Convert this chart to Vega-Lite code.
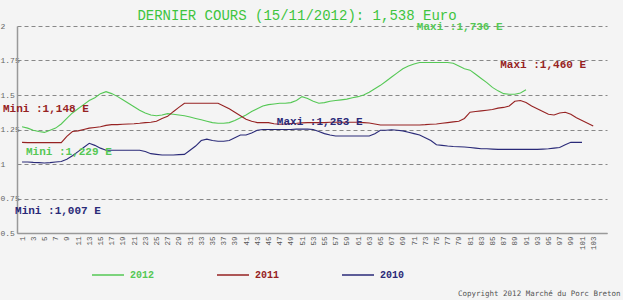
{
  "$schema": "https://vega.github.io/schema/vega-lite/v6.json",
  "width": 590,
  "height": 207,
  "autosize": {"type": "none"},
  "padding": {"left": 17, "top": 26, "right": 16, "bottom": 67},
  "background": "#f4f4f4",
  "title": {"text": "DERNIER COURS (15/11/2012): 1,538 Euro", "font": "Liberation Mono", "fontSize": 14, "fontWeight": "normal", "color": "#3ec43e", "anchor": "middle", "dx": -15, "offset": -2},
  "config": {"view": {"stroke": null}, "axis": {"labelOverlap": false}},
  "datasets": {
    "prices": [
      {"week": 1, "2012": 1.27, "2011": 1.157, "2010": 1.015},
      {"week": 2, "2012": 1.26, "2011": 1.155, "2010": 1.015},
      {"week": 3, "2012": 1.245, "2011": 1.155, "2010": 1.012},
      {"week": 4, "2012": 1.235, "2011": 1.155, "2010": 1.01},
      {"week": 5, "2012": 1.229, "2011": 1.155, "2010": 1.007},
      {"week": 6, "2012": 1.245, "2011": 1.155, "2010": 1.01},
      {"week": 7, "2012": 1.26, "2011": 1.155, "2010": 1.015},
      {"week": 8, "2012": 1.29, "2011": 1.155, "2010": 1.018},
      {"week": 9, "2012": 1.33, "2011": 1.2, "2010": 1.035},
      {"week": 10, "2012": 1.37, "2011": 1.235, "2010": 1.06},
      {"week": 11, "2012": 1.4, "2011": 1.24, "2010": 1.09},
      {"week": 12, "2012": 1.43, "2011": 1.25, "2010": 1.12},
      {"week": 13, "2012": 1.46, "2011": 1.26, "2010": 1.15},
      {"week": 14, "2012": 1.48, "2011": 1.265, "2010": 1.135},
      {"week": 15, "2012": 1.51, "2011": 1.27, "2010": 1.115},
      {"week": 16, "2012": 1.524, "2011": 1.28, "2010": 1.1},
      {"week": 17, "2012": 1.51, "2011": 1.285, "2010": 1.1},
      {"week": 18, "2012": 1.49, "2011": 1.285, "2010": 1.1},
      {"week": 19, "2012": 1.465, "2011": 1.288, "2010": 1.1},
      {"week": 20, "2012": 1.44, "2011": 1.29, "2010": 1.1},
      {"week": 21, "2012": 1.415, "2011": 1.292, "2010": 1.1},
      {"week": 22, "2012": 1.39, "2011": 1.295, "2010": 1.1},
      {"week": 23, "2012": 1.37, "2011": 1.3, "2010": 1.09},
      {"week": 24, "2012": 1.355, "2011": 1.302, "2010": 1.075},
      {"week": 25, "2012": 1.35, "2011": 1.31, "2010": 1.07},
      {"week": 26, "2012": 1.355, "2011": 1.33, "2010": 1.065},
      {"week": 27, "2012": 1.365, "2011": 1.345, "2010": 1.065},
      {"week": 28, "2012": 1.36, "2011": 1.379, "2010": 1.065},
      {"week": 29, "2012": 1.355, "2011": 1.41, "2010": 1.068},
      {"week": 30, "2012": 1.35, "2011": 1.44, "2010": 1.07},
      {"week": 31, "2012": 1.34, "2011": 1.44, "2010": 1.1},
      {"week": 32, "2012": 1.33, "2011": 1.44, "2010": 1.13},
      {"week": 33, "2012": 1.32, "2011": 1.44, "2010": 1.17},
      {"week": 34, "2012": 1.31, "2011": 1.44, "2010": 1.18},
      {"week": 35, "2012": 1.3, "2011": 1.44, "2010": 1.17},
      {"week": 36, "2012": 1.295, "2011": 1.44, "2010": 1.165},
      {"week": 37, "2012": 1.295, "2011": 1.42, "2010": 1.165},
      {"week": 38, "2012": 1.3, "2011": 1.4, "2010": 1.17},
      {"week": 39, "2012": 1.315, "2011": 1.375, "2010": 1.19},
      {"week": 40, "2012": 1.335, "2011": 1.35, "2010": 1.21},
      {"week": 41, "2012": 1.355, "2011": 1.325, "2010": 1.21},
      {"week": 42, "2012": 1.38, "2011": 1.31, "2010": 1.225},
      {"week": 43, "2012": 1.4, "2011": 1.3, "2010": 1.245},
      {"week": 44, "2012": 1.42, "2011": 1.3, "2010": 1.25},
      {"week": 45, "2012": 1.43, "2011": 1.3, "2010": 1.25},
      {"week": 46, "2012": 1.435, "2011": 1.292, "2010": 1.25},
      {"week": 47, "2012": 1.44, "2011": 1.288, "2010": 1.25},
      {"week": 48, "2012": 1.44, "2011": 1.29, "2010": 1.25},
      {"week": 49, "2012": 1.445, "2011": 1.293, "2010": 1.25},
      {"week": 50, "2012": 1.46, "2011": 1.295, "2010": 1.253},
      {"week": 51, "2012": 1.488, "2011": 1.298, "2010": 1.253},
      {"week": 52, "2012": 1.475, "2011": 1.3, "2010": 1.253},
      {"week": 53, "2012": 1.455, "2011": 1.3, "2010": 1.25},
      {"week": 54, "2012": 1.44, "2011": 1.3, "2010": 1.235},
      {"week": 55, "2012": 1.445, "2011": 1.3, "2010": 1.22},
      {"week": 56, "2012": 1.455, "2011": 1.302, "2010": 1.21},
      {"week": 57, "2012": 1.46, "2011": 1.303, "2010": 1.203},
      {"week": 58, "2012": 1.465, "2011": 1.303, "2010": 1.203},
      {"week": 59, "2012": 1.47, "2011": 1.303, "2010": 1.203},
      {"week": 60, "2012": 1.48, "2011": 1.303, "2010": 1.203},
      {"week": 61, "2012": 1.488, "2011": 1.303, "2010": 1.203},
      {"week": 62, "2012": 1.5, "2011": 1.3, "2010": 1.203},
      {"week": 63, "2012": 1.52, "2011": 1.297, "2010": 1.203},
      {"week": 64, "2012": 1.545, "2011": 1.29, "2010": 1.22},
      {"week": 65, "2012": 1.57, "2011": 1.283, "2010": 1.245},
      {"week": 66, "2012": 1.6, "2011": 1.283, "2010": 1.245},
      {"week": 67, "2012": 1.63, "2011": 1.283, "2010": 1.248},
      {"week": 68, "2012": 1.66, "2011": 1.283, "2010": 1.245},
      {"week": 69, "2012": 1.69, "2011": 1.283, "2010": 1.24},
      {"week": 70, "2012": 1.71, "2011": 1.283, "2010": 1.23},
      {"week": 71, "2012": 1.725, "2011": 1.283, "2010": 1.22},
      {"week": 72, "2012": 1.736, "2011": 1.283, "2010": 1.21},
      {"week": 73, "2012": 1.736, "2011": 1.285, "2010": 1.19},
      {"week": 74, "2012": 1.736, "2011": 1.288, "2010": 1.17},
      {"week": 75, "2012": 1.736, "2011": 1.29, "2010": 1.14},
      {"week": 76, "2012": 1.736, "2011": 1.295, "2010": 1.135},
      {"week": 77, "2012": 1.736, "2011": 1.3, "2010": 1.13},
      {"week": 78, "2012": 1.73, "2011": 1.305, "2010": 1.127},
      {"week": 79, "2012": 1.71, "2011": 1.31, "2010": 1.125},
      {"week": 80, "2012": 1.69, "2011": 1.33, "2010": 1.123},
      {"week": 81, "2012": 1.68, "2011": 1.375, "2010": 1.12},
      {"week": 82, "2012": 1.65, "2011": 1.38, "2010": 1.115},
      {"week": 83, "2012": 1.62, "2011": 1.385, "2010": 1.11},
      {"week": 84, "2012": 1.59, "2011": 1.39, "2010": 1.11},
      {"week": 85, "2012": 1.555, "2011": 1.395, "2010": 1.108},
      {"week": 86, "2012": 1.53, "2011": 1.405, "2010": 1.106},
      {"week": 87, "2012": 1.51, "2011": 1.41, "2010": 1.106},
      {"week": 88, "2012": 1.505, "2011": 1.42, "2010": 1.106},
      {"week": 89, "2012": 1.505, "2011": 1.455, "2010": 1.106},
      {"week": 90, "2012": 1.515, "2011": 1.46, "2010": 1.106},
      {"week": 91, "2012": 1.538, "2011": 1.445, "2010": 1.106},
      {"week": 92, "2011": 1.42, "2010": 1.106},
      {"week": 93, "2011": 1.4, "2010": 1.106},
      {"week": 94, "2011": 1.38, "2010": 1.108},
      {"week": 95, "2011": 1.36, "2010": 1.11},
      {"week": 96, "2011": 1.355, "2010": 1.115},
      {"week": 97, "2011": 1.37, "2010": 1.12},
      {"week": 98, "2011": 1.375, "2010": 1.14},
      {"week": 99, "2011": 1.36, "2010": 1.157},
      {"week": 100, "2011": 1.335, "2010": 1.157},
      {"week": 101, "2011": 1.315, "2010": 1.157},
      {"week": 102, "2011": 1.295},
      {"week": 103, "2011": 1.275}
    ],
    "notes": [
      {"label": "Maxi :1,736 E", "year": "2012", "week": 71.5, "value": 1.993},
      {"label": "Maxi :1,460 E", "year": "2011", "week": 86.4, "value": 1.717},
      {"label": "Mini :1,148 E", "year": "2011", "week": -2.4, "value": 1.395},
      {"label": "Mini :1,229 E", "year": "2012", "week": 1.7, "value": 1.087},
      {"label": "Maxi :1,253 E", "year": "2010", "week": 46.5, "value": 1.304},
      {"label": "Mini :1,007 E", "year": "2010", "week": -0.25, "value": 0.662}
    ]
  },
  "layer": [
    {
      "data": {"name": "prices"},
      "transform": [
        {"fold": ["2012", "2011", "2010"], "as": ["year", "value"]},
        {"filter": "isValid(datum.value)"}
      ],
      "mark": {"type": "line", "strokeWidth": 1.1},
      "encoding": {
        "x": {
          "field": "week", "type": "quantitative",
          "scale": {"domain": [0.1, 105.46], "nice": false, "zero": false},
          "axis": {
            "values": [1,3,5,7,9,11,13,15,17,19,21,23,25,27,29,31,33,35,37,39,41,43,45,47,49,51,53,55,57,59,61,63,65,67,69,71,73,75,77,79,81,83,85,87,89,91,93,95,97,99,101,103],
            "tickCount": 200,
            "labelAngle": 270, "labelOverlap": false, "labelFont": "Liberation Mono", "labelFontSize": 7.5, "labelColor": "#555", "labelPadding": 3,
            "ticks": false, "grid": false, "domainColor": "#999", "domainWidth": 1.5, "format": "d",
            "title": "Copyright 2012 Marché du Porc Breton", "titleFont": "DejaVu Sans Mono", "titleFontSize": 7.5, "titleFontWeight": "normal", "titleColor": "#555",
            "titleAnchor": "end", "titleAlign": "right", "titleBaseline": "middle", "titleX": 603, "titleY": 60
          }
        },
        "y": {
          "field": "value", "type": "quantitative",
          "scale": {"domain": [0.5, 2], "nice": false, "zero": false},
          "axis": {
            "values": [0.5, 0.75, 1, 1.25, 1.5, 1.75, 2], "tickCount": 20, "format": ".3~g", "title": null, "labelOverlap": false,
            "grid": true, "gridDash": [4, 3], "gridColor": "#888", "gridWidth": 1,
            "ticks": false, "labelAlign": "left", "labelPadding": 17, "labelFont": "Liberation Mono", "labelFontSize": 8, "labelColor": "#666",
            "domainColor": "#999", "domainWidth": 1.5
          }
        },
        "color": {
          "field": "year", "type": "nominal",
          "scale": {"domain": ["2012", "2011", "2010"], "range": ["#55c855", "#962222", "#2a2a78"]},
          "legend": {
            "orient": "none", "legendX": 74, "legendY": 232, "direction": "horizontal", "title": null,
            "symbolType": "stroke", "symbolSize": 1024, "symbolStrokeWidth": 1.5,
            "labelFont": "Liberation Mono", "labelFontSize": 10, "labelFontWeight": "bold", "labelOffset": 5, "columnPadding": 59,
            "encode": {"labels": {"update": {"fill": {"scale": "color", "field": "value"}}}}
          }
        }
      }
    },
    {
      "data": {"name": "notes"},
      "mark": {"type": "text", "align": "left", "baseline": "middle", "font": "Liberation Mono", "fontSize": 11, "fontWeight": "bold"},
      "encoding": {
        "x": {"field": "week", "type": "quantitative"},
        "y": {"field": "value", "type": "quantitative"},
        "text": {"field": "label"},
        "color": {"field": "year", "type": "nominal", "legend": null}
      }
    }
  ]
}
